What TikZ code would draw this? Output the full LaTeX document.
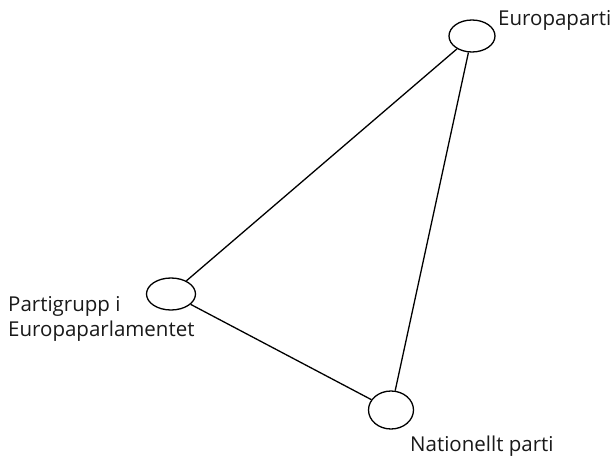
\documentclass[tikz,border=0pt]{standalone}
\usepackage{fontspec}
\setmainfont{Open Sans}
\usetikzlibrary{shapes.geometric}
\begin{document}
\begin{tikzpicture}[x=1pt,y=1pt,
  party/.style={draw, ellipse, line width=1.3pt, inner sep=0pt},
  lbl/.style={font=\fontsize{20.5}{25}\selectfont, inner sep=0pt, anchor=base west, text=black!90},
  link/.style={line width=1.3pt}]
\useasboundingbox (0,0) rectangle (615,456);
\node[party, minimum width=46pt, minimum height=32pt] (ep) at (472,420) {};
\node[party, minimum width=49pt, minimum height=32pt] (pg) at (171,162) {};
\node[party, minimum width=45pt, minimum height=38pt] (np) at (391,46) {};
\node[lbl] (tep) at (498,430) {Europaparti};
\node[lbl] (tpg1) at (8,145) {Partigrupp i};
\node[lbl] (tpg2) at (8,120) {Europaparlamentet};
\node[lbl] (tnp) at (410,5) {Nationellt parti};
\draw[link] (ep) -- (pg);
\draw[link] (ep) -- (np);
\draw[link] (pg) -- (np);
\end{tikzpicture}
\end{document}
